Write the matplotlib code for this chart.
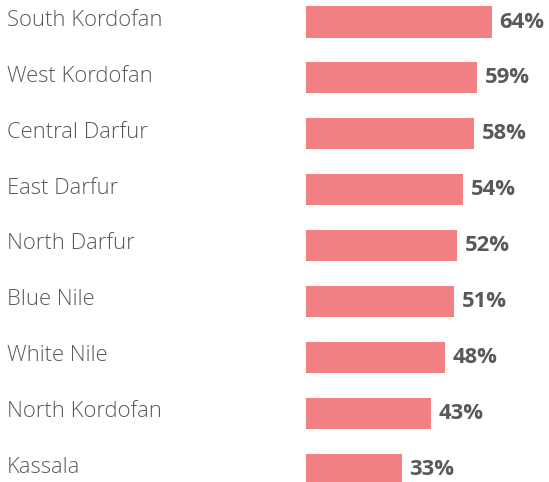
import matplotlib.pyplot as plt

regions = ["South Kordofan", "West Kordofan", "Central Darfur", "East Darfur",
           "North Darfur", "Blue Nile", "White Nile", "North Kordofan", "Kassala"]
values = [64, 59, 58, 54, 52, 51, 48, 43, 33]

bar_color = "#F28184"
text_color = "#595959"

fig = plt.figure(figsize=(5.49, 4.82), dpi=100)
ax = fig.add_axes([0, 0, 1, 1])

y = list(range(len(regions)))
ax.barh(y, values, height=0.555, color=bar_color)

# map data to pixels: bars start at x=306px, 2.9px per percent
ax.set_xlim(-306 / 2.9, (549 - 306) / 2.9)
ax.set_ylim((482 - 22) / 55.9, -22 / 55.9)
ax.axis("off")

for i, (name, v) in enumerate(zip(regions, values)):
    ax.text(7 / 549, i - 0.03, name, transform=ax.get_yaxis_transform(),
            ha="left", va="center", fontsize=15.8, color=text_color,
            family="Open Sans", fontweight="light")
    ax.text(v + 2.7, i, f"{v}%", ha="left", va="center", fontsize=15.8,
            color=text_color, family="Open Sans", fontweight="bold")

fig.savefig("out.png", dpi=100)
